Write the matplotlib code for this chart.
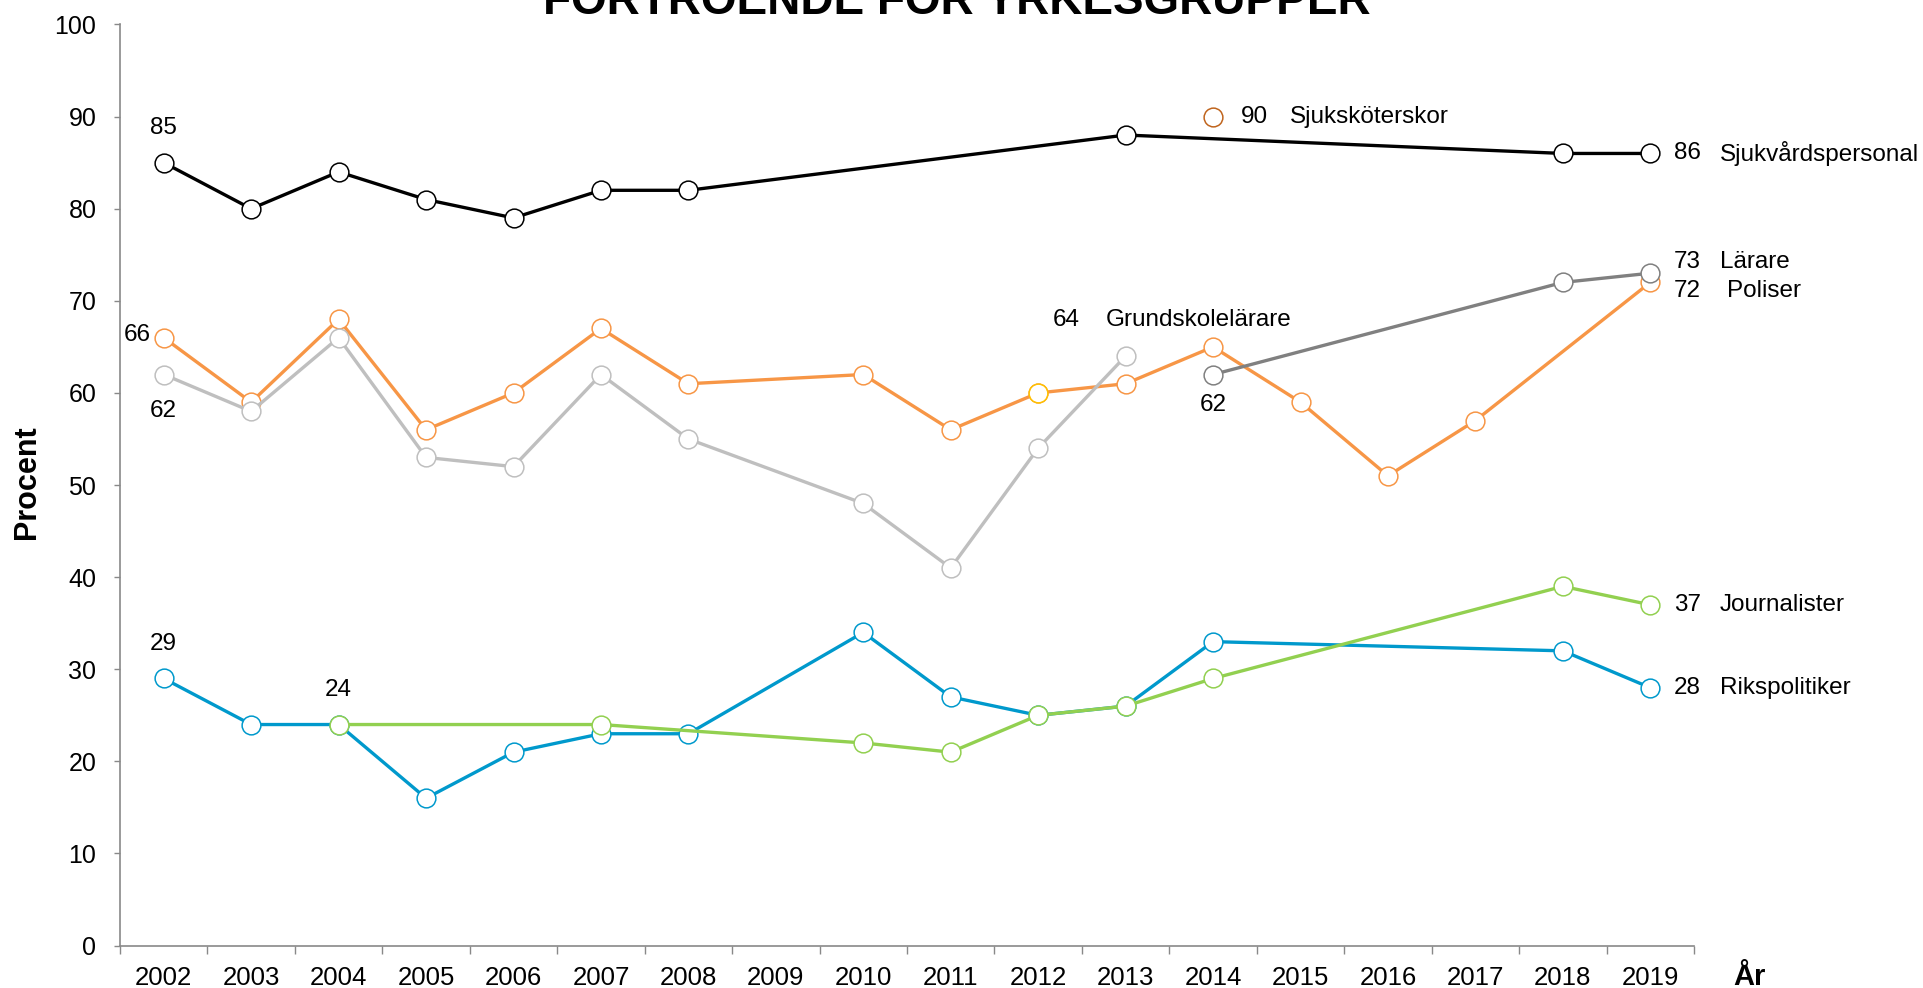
"""
Förtroende för yrkesgrupper 2002-2019, line chart recreated with matplotlib.
"""

import numpy as np
import matplotlib
matplotlib.use("Agg")
import matplotlib.pyplot as plt

#####################################
# Data
#####################################

years = ["2002", "2003", "2004", "2005", "2006", "2007", "2008", "2009", "2010",
         "2011", "2012", "2013", "2014", "2015", "2016", "2017", "2018", "2019"]

N = None
sjukvardspersonal = [85, 80, 84, 81, 79, 82, 82, N, N, N, N, 88, N, N, N, N, 86, 86]
poliser = [66, 59, 68, 56, 60, 67, 61, N, 62, 56, 60, 61, 65, 59, 51, 57, N, 72]
grundskolelarare = [62, 58, 66, 53, 52, 62, 55, N, 48, 41, 54, 64, N, N, N, N, N, N]
larare = [N, N, N, N, N, N, N, N, N, N, N, N, 62, N, N, N, 72, 73]
rikspolitiker = [29, 24, 24, 16, 21, 23, 23, N, 34, 27, 25, 26, 33, N, N, N, 32, 28]
journalister = [N, N, 24, N, N, 24, N, N, 22, 21, 25, 26, 29, N, N, N, 39, 37]
sjukskoterskor = [N, N, N, N, N, N, N, N, N, N, N, N, 90, N, N, N, N, N]

title = "FÖRTROENDE FÖR YRKESGRUPPER"

#####################################
# Style
#####################################

plt.rcParams["font.family"] = ["Liberation Sans", "DejaVu Sans"]

BLACK = "#000000"
ORANGE = "#F79646"
LIGHT_GREY = "#BFBFBF"
DARK_GREY = "#808080"
BLUE = "#0099CC"
GREEN = "#92D050"
BROWN = "#C0651E"
YELLOW = "#FFC000"
AXIS_GREY = "#898989"


def valid(series):
    """Return x positions and values where the series has data."""
    xs = [i for i, v in enumerate(series) if v is not None]
    ys = [series[i] for i in xs]
    return np.array(xs), np.array(ys)


def draw_series(ax, series, color, lw=2.4, edge=None):
    xs, ys = valid(series)
    ax.plot(xs, ys, color=color, lw=lw, marker="o", markersize=13.5,
            markerfacecolor="white", markeredgecolor=edge or color,
            markeredgewidth=1.1, zorder=3)


#####################################
# Figure
#####################################

fig = plt.figure(figsize=(19.23, 9.88), dpi=100)
ax = fig.add_axes([120 / 1923, 1 - 945.6 / 988, (1694 - 120) / 1923, (945.6 - 24.5) / 988])

draw_series(ax, sjukvardspersonal, BLACK)
draw_series(ax, poliser, ORANGE)
# 2012 marker for Poliser has a yellow edge
ax.plot([10], [poliser[10]], marker="o", markersize=13.5, markerfacecolor="white",
        markeredgecolor=YELLOW, markeredgewidth=1.1, zorder=3)
draw_series(ax, grundskolelarare, LIGHT_GREY)
draw_series(ax, larare, DARK_GREY)
draw_series(ax, rikspolitiker, BLUE)
draw_series(ax, journalister, GREEN)
draw_series(ax, sjukskoterskor, BROWN)

# Axes
ax.set_xlim(-0.5, len(years) - 0.5)
ax.set_ylim(0, 100)
ax.set_yticks(np.arange(0, 101, 10))
ax.set_xticks(np.arange(len(years)))
ax.set_xticklabels(years)
ax.set_xticks(np.arange(-0.5, len(years)), minor=True)
ax.tick_params(axis="x", which="major", length=0, pad=15, labelsize=18.5)
ax.tick_params(axis="x", which="minor", length=6, width=1, color=AXIS_GREY, direction="out")
ax.tick_params(axis="y", length=4, width=1, color=AXIS_GREY, direction="out", pad=13, labelsize=18)
for side in ["top", "right"]:
    ax.spines[side].set_visible(False)
for side in ["left", "bottom"]:
    ax.spines[side].set_color(AXIS_GREY)
    ax.spines[side].set_linewidth(1.2)

fig.text(27 / 1923, 1 - 482 / 988, "Procent", rotation=90, ha="center", va="center",
         fontsize=22, fontweight="bold")
fig.text(1749 / 1923, 1 - 985 / 988, "År", ha="center", va="baseline",
         fontsize=21, fontweight="bold")
fig.text(957 / 1923, 1 - 14 / 988, title, ha="center", va="baseline",
         fontsize=33, fontweight="bold")

#####################################
# Value labels
#####################################

FS = 17.5


def label(x, y, text, dx, dy, ha="center"):
    ax.annotate(text, xy=(x, y), xytext=(dx, dy), textcoords="offset points",
                ha=ha, va="center", fontsize=FS, zorder=5)


label(0, sjukvardspersonal[0], str(sjukvardspersonal[0]), 0, 25)
label(0, poliser[0], str(poliser[0]), -9, 2, ha="right")
label(0, grundskolelarare[0], str(grundskolelarare[0]), 0, -26)
label(0, rikspolitiker[0], str(rikspolitiker[0]), 0, 25)
label(2, journalister[2], str(journalister[2]), 0, 25)
label(11, grundskolelarare[11], str(grundskolelarare[11]), -43, 26)
label(11, grundskolelarare[11], "Grundskolelärare", -14, 26, ha="left")
label(12, larare[12], str(larare[12]), 0, -22)
label(12, sjukskoterskor[12], str(sjukskoterskor[12]), 20, 0, ha="left")
label(12, sjukskoterskor[12], "Sjuksköterskor", 55, 0, ha="left")

last = len(years) - 1
right_labels = [
    (sjukvardspersonal, "Sjukvårdspersonal", 0, 50),
    (larare, "Lärare", 8, 50),
    (poliser, "Poliser", -6.5, 55),
    (journalister, "Journalister", 0, 50),
    (rikspolitiker, "Rikspolitiker", 0, 50),
]
for series, name, dy, dx_name in right_labels:
    label(last, series[last], str(series[last]), 17, dy, ha="left")
    label(last, series[last], name, dx_name, dy, ha="left")

fig.savefig("out.png", dpi=100)
